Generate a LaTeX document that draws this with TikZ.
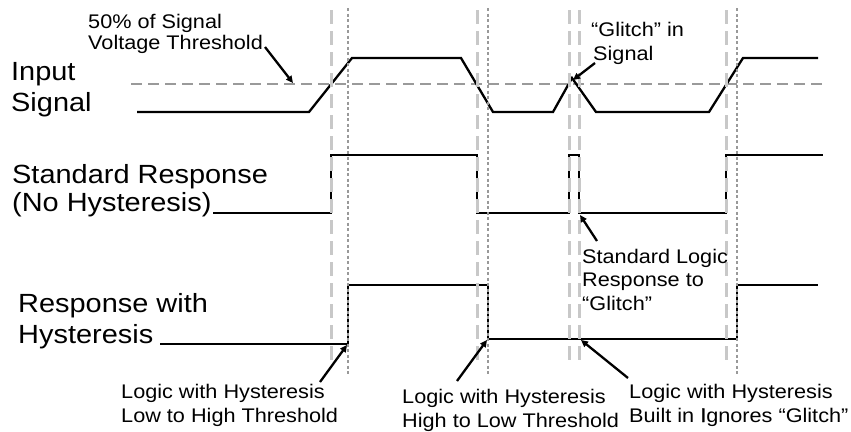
\documentclass[tikz,border=0pt]{standalone}
\usepackage{fontspec}
\setmainfont[FakeStretch=1.1]{Liberation Sans}
\usetikzlibrary{arrows.meta}
\definecolor{guidelight}{HTML}{C8C8C8}
\definecolor{guidedark}{HTML}{999999}
\definecolor{thresh}{HTML}{9A9A9A}
\begin{document}
\begin{tikzpicture}[x=1pt,y=-1pt,
  sig/.style={line width=2.3pt, black, line join=miter},
  thr/.style={line width=2.2pt, thresh, dash pattern=on 11pt off 6pt},
  gl/.style={line width=3pt, guidelight, dash pattern=on 14pt off 7pt},
  gd/.style={line width=2.2pt, guidedark, dash pattern=on 3pt off 2.5pt},
  big/.style={anchor=base west, inner sep=0pt, font=\fontsize{26.3}{30}\selectfont},
  small/.style={anchor=base west, inner sep=0pt, font=\fontsize{19.7}{23}\selectfont},
  pt/.style={line width=2.3pt, black, -{Triangle[length=7pt,width=6.5pt]}}
]
\useasboundingbox (0,0) rectangle (851,431);

% threshold line
\coordinate (th0) at (131,84);
\coordinate (th1) at (823,84);
\draw[thr] (th0) -- (th1);

% input signal
\draw[sig] (137,112) -- (309,112) -- (352,58) -- (461,58) -- (493,112)
  -- (553,112) -- (572,78) -- (596,112) -- (709,112) -- (743,58) -- (818,58);

% standard response
\draw[sig] (213,213) -- (331,213) -- (331,155) -- (477,155) -- (477,213)
  -- (569,213) -- (569,155) -- (579,155) -- (579,213) -- (726,213)
  -- (726,155) -- (823,155);

% response with hysteresis
\draw[sig] (160,344) -- (348,344) -- (348,285) -- (488,285) -- (488,339)
  -- (737,339) -- (737,285) -- (818,285);

% guides
\foreach \gx in {331,477,569,579,726} \draw[gl] (\gx,10) -- (\gx,363);
\foreach \gx in {348,488,737} \draw[gd] (\gx,8) -- (\gx,375);

% labels
\node[big] (in1) at (11,80) {Input};
\node[big] (in2) at (11,111) {Signal};
\node[big] (sr1) at (12,183) {Standard Response};
\node[big] (sr2) at (12,211) {(No Hysteresis)};
\node[big] (rh1) at (18,312) {Response with};
\node[big] (rh2) at (18,343) {Hysteresis};

\node[small] (v1) at (88,28) {50\% of Signal};
\node[small] (v2) at (88,49) {Voltage Threshold};
\node[small] (g1) at (591,36) {“Glitch” in};
\node[small] (g2) at (593,60) {Signal};
\node[small] (s1) at (582,263) {Standard Logic};
\node[small] (s2) at (582,286) {Response to};
\node[small] (s3) at (582,310) {“Glitch”};
\node[small] (l1) at (121,398) {Logic with Hysteresis};
\node[small] (l2) at (121,422) {Low to High Threshold};
\node[small] (h1) at (402,403) {Logic with Hysteresis};
\node[small] (h2) at (402,427) {High to Low Threshold};
\node[small] (b1) at (629,398) {Logic with Hysteresis};
\node[small] (b2) at (629,422) {Built in {\addfontfeature{FakeBold=1.5}I}gnores “Glitch”};

% arrows
\coordinate (a1s) at (265,47);  \coordinate (a1e) at (293,83);
\coordinate (a2s) at (595,63);  \coordinate (a2e) at (573,80);
\coordinate (a3s) at (597,241); \coordinate (a3e) at (580,215);
\coordinate (a4s) at (320,382); \coordinate (a4e) at (347,345);
\coordinate (a5s) at (457,381); \coordinate (a5e) at (487,340);
\coordinate (a6s) at (628,378); \coordinate (a6e) at (581,340);
\draw[pt] (a1s) -- (a1e);
\draw[pt] (a2s) -- (a2e);
\draw[pt] (a3s) -- (a3e);
\draw[pt] (a4s) -- (a4e);
\draw[pt] (a5s) -- (a5e);
\draw[pt] (a6s) -- (a6e);
\end{tikzpicture}
\end{document}
